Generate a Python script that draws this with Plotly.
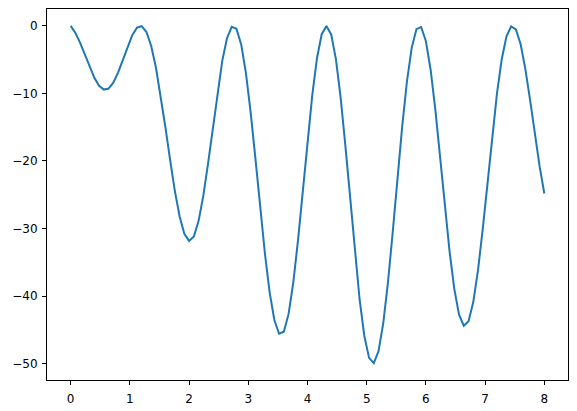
import plotly.graph_objects as go

# sample positions along x (0 .. 8, step 0.08)
x_vals = [round(0.08 * i, 2) for i in range(101)]

# curve values
y_vals = [
    0.0, -1.04, -2.51, -4.26, -6.07, -7.68, -8.86, -9.43, -9.28, -8.41,
    -6.93, -5.06, -3.10, -1.39, -0.27, -0.04, -0.91, -2.98, -6.17, -10.29,
    -15.01, -19.89, -24.46, -28.23, -30.79, -31.83, -31.19, -28.90, -25.17, -20.39,
    -15.06, -9.79, -5.18, -1.82, -0.13, -0.42, -2.75, -7.00, -12.80, -19.61,
    -26.80, -33.63, -39.41, -43.55, -45.58, -45.29, -42.68, -38.00, -31.72, -24.50,
    -17.09, -10.28, -4.79, -1.23, 0.0, -1.26, -4.91, -10.61, -17.77, -25.68,
    -33.53, -40.51, -45.91, -49.15, -49.93, -48.15, -43.99, -37.90, -30.49, -22.54,
    -14.85, -8.20, -3.25, -0.49, -0.17, -2.27, -6.53, -12.46, -19.43, -26.67,
    -33.42, -38.97, -42.75, -44.39, -43.74, -40.89, -36.17, -30.06, -23.22, -16.32,
    -10.04, -4.98, -1.57, -0.07, -0.51, -2.73, -6.40, -11.00, -15.99, -20.77,
    -24.82,
]

x_ticks = [0, 1, 2, 3, 4, 5, 6, 7, 8]
y_ticks = [0, -10, -20, -30, -40, -50]

fig = go.Figure()

fig.add_trace(go.Scatter(
    x=x_vals, y=y_vals,
    mode='lines',
    line=dict(color='#1f77b4', width=2),
    showlegend=False
))

axis_style = dict(
    showgrid=False, zeroline=False,
    showline=True, linecolor='black', linewidth=1, mirror=True,
    ticks='outside', ticklen=4, tickwidth=1, tickcolor='black',
    tickfont=dict(family='DejaVu Sans', size=12, color='black'),
)

# the page body adds an 8px offset, so the figure is sized to fill the rest
fig.update_layout(
    width=569, height=403,
    margin=dict(l=39, r=9, t=1, b=31),
    paper_bgcolor='white', plot_bgcolor='white',
    xaxis=dict(range=[-0.4, 8.4], tickvals=x_ticks, ticklabelstandoff=4, **axis_style),
    yaxis=dict(range=[-52.43, 2.5], tickvals=y_ticks, ticklabelstandoff=2, **axis_style),
)

fig.write_html("out.html")
